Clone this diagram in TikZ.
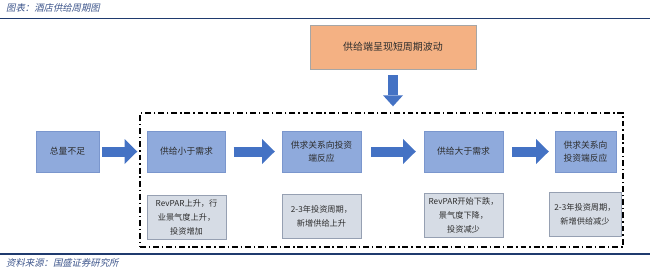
\documentclass[tikz,border=0pt]{standalone}
\usepackage{fontspec}
\setmainfont{Noto Sans CJK SC}
\newfontfamily\cjkslant[FakeSlant=0.22]{Noto Sans CJK SC}
\usetikzlibrary{arrows.meta,positioning}
\definecolor{topfill}{RGB}{143,170,220}
\definecolor{topline}{RGB}{122,150,205}
\definecolor{lowfill}{RGB}{214,220,229}
\definecolor{lowline}{RGB}{150,160,178}
\definecolor{srcfill}{RGB}{244,177,131}
\definecolor{srcline}{RGB}{166,166,166}
\definecolor{arrblue}{RGB}{68,114,196}
\definecolor{rulenavy}{RGB}{31,58,110}
\definecolor{capblue}{RGB}{62,86,140}
\definecolor{txtgray}{RGB}{45,45,45}
\tikzset{
  topbox/.style={draw=topline, fill=topfill, minimum height=1.23cm, inner sep=1pt,
                 align=center, text=txtgray, font=\fontsize{7.5}{11}\selectfont},
  lowbox/.style={draw=lowline, fill=lowfill, minimum width=2.37cm, minimum height=1.32cm,
                 inner sep=1pt, align=center, text=txtgray, font=\fontsize{7}{12}\selectfont},
  srcbox/.style={draw=srcline, fill=srcfill, minimum width=4.98cm, minimum height=1.32cm,
                 text=txtgray, font=\fontsize{8.5}{11}\selectfont},
  blkarr/.style={draw=arrblue, line width=0.3cm,
                 -{Triangle[length=0.38cm, width=0.75cm, line width=0pt]}},
  downarr/.style={draw=arrblue, line width=0.3cm,
                 -{Triangle[length=0.33cm, width=0.6cm, line width=0pt]}},
  cycframe/.style={draw=black, line width=1.2pt, minimum width=14.49cm, minimum height=4.02cm,
                 dash pattern=on 5pt off 2.5pt on 1.2pt off 2.5pt},
  capt/.style={anchor=west, text=capblue, font=\cjkslant\fontsize{8}{10}\selectfont},
  rulel/.style={draw=rulenavy, line width=1.1pt},
}
\begin{document}
\begin{tikzpicture}[x=0.03cm, y=-0.03cm]
  \useasboundingbox (0,0) rectangle (650,269);
  % header and footer
  \node[capt] (ttl) at (2,8) {图表：酒店供给周期图};
  \draw[rulel] (0,18.5) -- (650,18.5);
  \draw[rulel] (0,254) -- (650,254);
  \node[capt] (srcnote) at (2,263) {资料来源：国盛证券研究所};
  % cycle frame and supply source
  \node[cycframe] (cyc) at (381.5,180) {};
  \node[srcbox] (src) at (393,47) {供给端呈现短周期波动};
  \draw[downarr, shorten <=6*0.03cm, shorten >=6*0.03cm] (src.south) -- (src.south |- cyc.north);
  % top row
  \node[topbox, minimum width=1.89cm] (lack) at (67.5,151.5) {总量不足};
  \node[topbox, minimum width=2.34cm] (less) at (186.5,151.5) {供给小于需求};
  \node[topbox, minimum width=2.37cm] (resp1) at (321.5,151.5) {供求关系向投资\\端反应};
  \node[topbox, minimum width=2.37cm] (more) at (463.5,151.5) {供给大于需求};
  \node[topbox, minimum width=1.83cm] (resp2) at (585.5,151.5) {供求关系向\\投资端反应};
  \draw[blkarr, shorten <=0.09cm, shorten >=0.3cm] (lack) -- (less);
  \draw[blkarr, shorten <=0.24cm, shorten >=0.21cm] (less) -- (resp1);
  \draw[blkarr, shorten <=0.3cm, shorten >=0.24cm] (resp1) -- (more);
  \draw[blkarr, shorten <=0.27cm, shorten >=0.18cm] (more) -- (resp2);
  % bottom row
  \node[lowbox] (up) at (186.5,217) {RevPAR上升，行\\业景气度上升，\\投资增加};
  \node[lowbox] (invup) at (321.5,216.5) {2-3年投资周期，\\新增供给上升};
  \node[lowbox] (down) at (463.5,215.5) {RevPAR开始下跌，\\景气度下降，\\投资减少};
  \node[lowbox, minimum width=2.16cm] (invdown) at (585,214.5) {2-3年投资周期，\\新增供给减少};
\end{tikzpicture}
\end{document}
